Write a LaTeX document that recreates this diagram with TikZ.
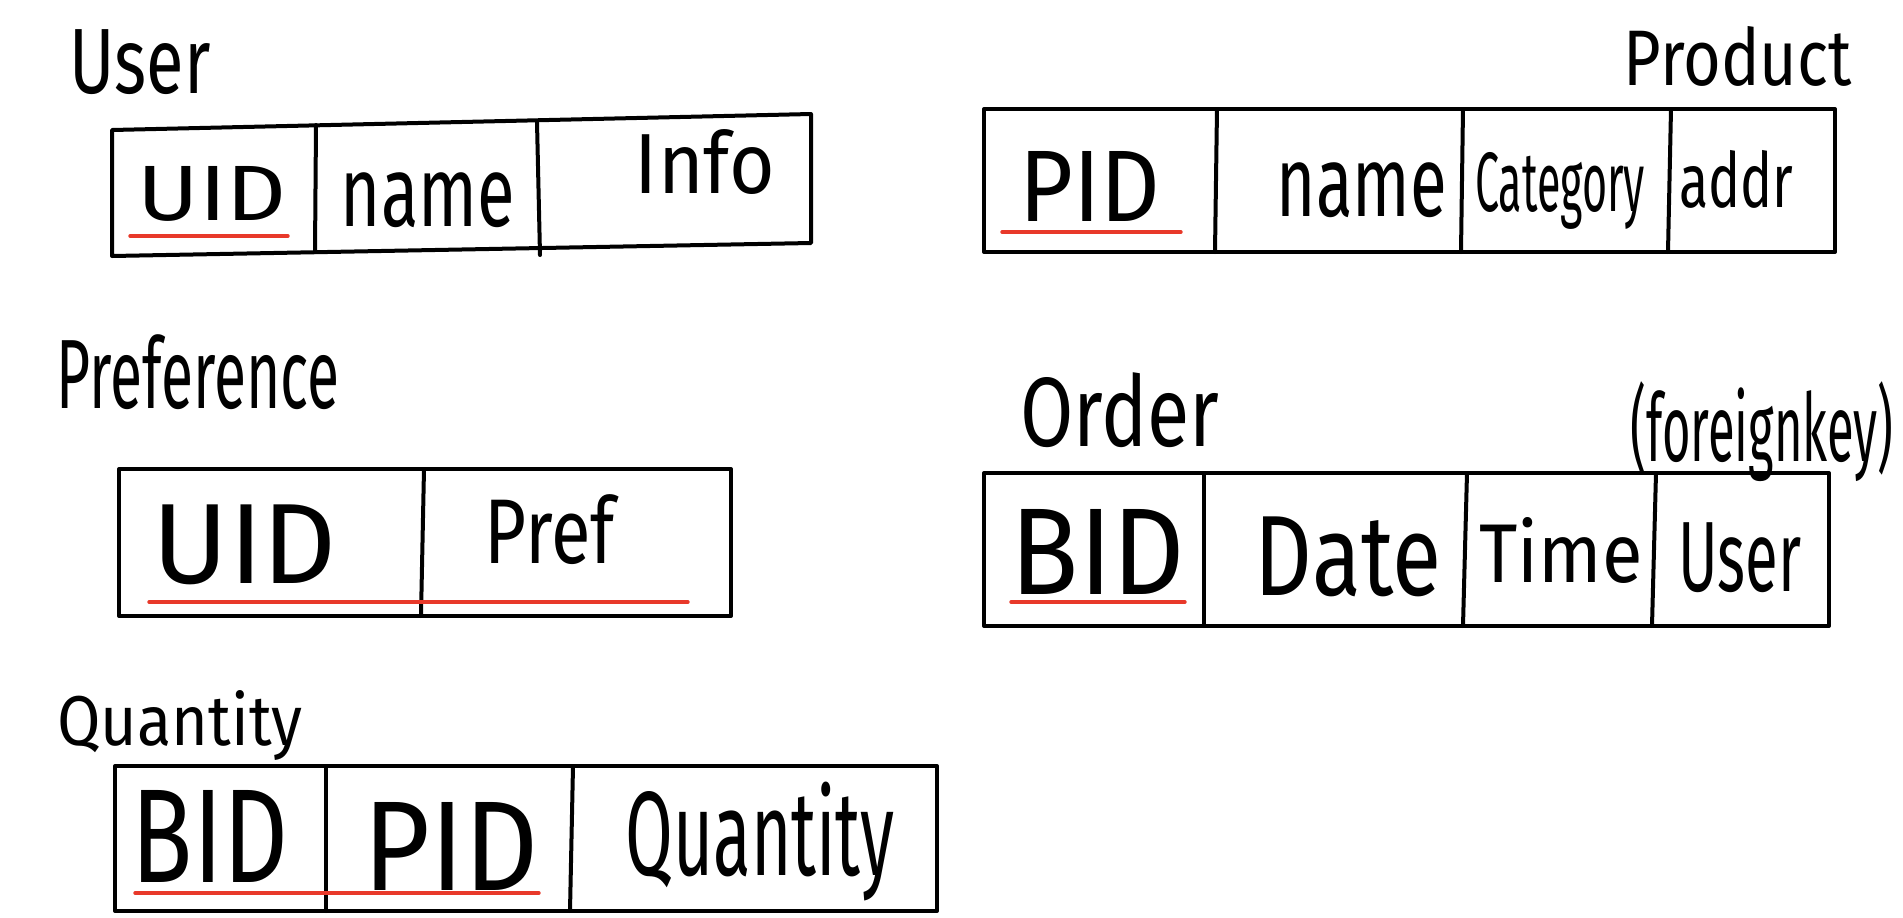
\documentclass[tikz,border=0pt]{standalone}
\usepackage{fontspec}
\usepackage{graphicx}
\newfontfamily\handfont{Fira Sans}
\newdimen\px
\px=0.5pt
\newcommand\hw[3]{\resizebox*{#1\px}{#2\px}{\handfont #3}}
\definecolor{keyred}{HTML}{E8392A}
\begin{document}
\begin{tikzpicture}[x=0.5pt,y=-0.5pt,
  lbl/.style={inner sep=0pt, anchor=center},
  tbl/.style={line width=2pt, line join=round, line cap=round},
  keyline/.style={keyred, line width=1.7pt, line cap=round}]
\useasboundingbox[fill=white] (0,0) rectangle (1903,917);

% ---------- User ----------
\node[lbl] (userT) at (140,62) {\hw{141}{65}{User}};
\draw[tbl] (112,130) -- (811,114) -- (811,243) -- (112,256) -- cycle;
\draw[tbl] (316,125) -- (315,252);
\draw[tbl] (537,122) -- (540,255);
\node[lbl] (userUID) at (212,194) {\hw{149}{55}{UID}};
\node[lbl] (userName) at (428,200) {\hw{174}{55}{name}};
\node[lbl] (userInfo) at (705,162) {\hw{140}{65}{Info}};
\draw[keyline] (130,236) -- (288,236);

% ---------- Product ----------
\node[lbl] (prodT) at (1738,56) {\hw{228}{60}{Product}};
\draw[tbl] (984,109) rectangle (1835,252);
\draw[tbl] (1217,109) -- (1215,252);
\draw[tbl] (1463,109) -- (1461,252);
\draw[tbl] (1671,109) -- (1668,252);
\node[lbl] (prodPID) at (1090,186) {\hw{141}{70}{PID}};
\node[lbl] (prodName) at (1362,190) {\hw{170}{55}{name}};
\node[lbl] (prodCat) at (1560,191) {\hw{170}{77}{Category}};
\node[lbl] (prodAddr) at (1736,179) {\hw{114}{58}{addr}};
\draw[keyline] (1002,232) -- (1181,232);

% ---------- Preference ----------
\node[lbl] (prefT) at (198,372) {\hw{283}{75}{Preference}};
\draw[tbl] (119,469) rectangle (731,616);
\draw[tbl] (424,469) -- (421,616);
\node[lbl] (prefUID) at (245,545) {\hw{184}{80}{UID}};
\node[lbl] (prefPref) at (550,530) {\hw{130}{70}{Pref}};
\draw[keyline] (149,602) -- (688,602);

% ---------- Order ----------
\node[lbl] (ordT) at (1120,410) {\hw{199}{75}{Order}};
\node[lbl] (ordFK) at (1762,432) {\hw{263}{100}{(foreignkey)}};
\draw[tbl] (984,473) rectangle (1829,626);
\draw[tbl] (1204,473) -- (1204,626);
\draw[tbl] (1467,473) -- (1463,626);
\draw[tbl] (1656,473) -- (1652,626);
\node[lbl] (ordBID) at (1098,552) {\hw{174}{85}{BID}};
\node[lbl] (ordDate) at (1348,557) {\hw{186}{80}{Date}};
\node[lbl] (ordTime) at (1561,550) {\hw{163}{66}{Time}};
\node[lbl] (ordUser) at (1740,558) {\hw{123}{70}{User}};
\draw[keyline] (1011,602) -- (1185,602);

% ---------- Quantity ----------
\node[lbl] (qtyT) at (180,726) {\hw{245}{70}{Quantity}};
\draw[tbl] (115,766) rectangle (937,911);
\draw[tbl] (326,766) -- (326,911);
\draw[tbl] (573,766) -- (570,911);
\node[lbl] (qtyBID) at (210,836) {\hw{156}{92}{BID}};
\node[lbl] (qtyPID) at (451,846) {\hw{175}{88}{PID}};
\node[lbl] (qtyQty) at (760,842) {\hw{269}{119}{Quantity}};
\draw[keyline] (135,893) -- (539,893);
\end{tikzpicture}
\end{document}
